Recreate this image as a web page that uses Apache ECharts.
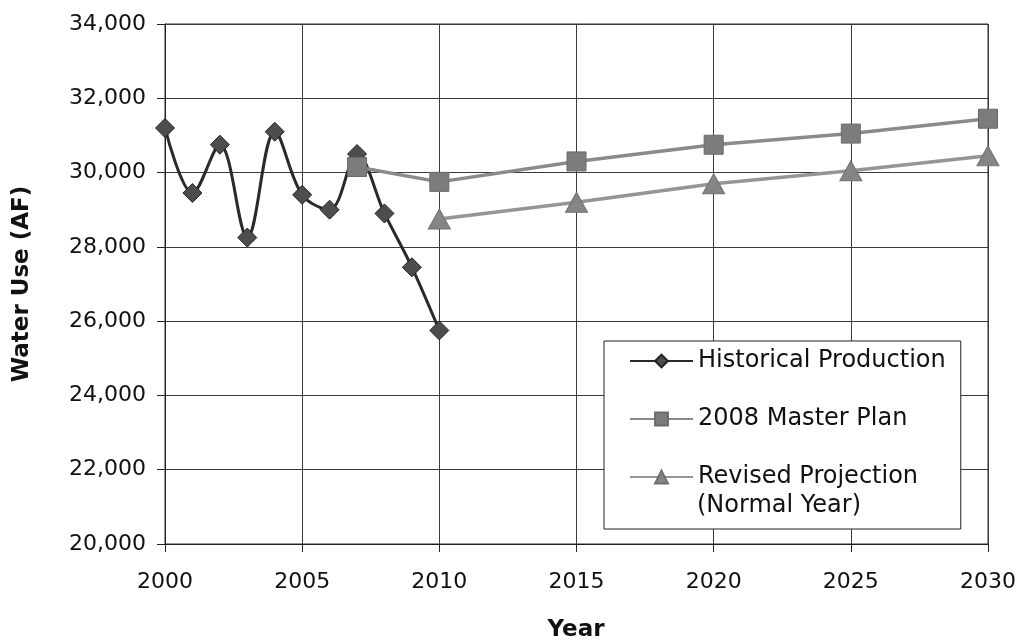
<!DOCTYPE html>
<html>
<head>
<meta charset="utf-8">
<script src="https://cdn.jsdelivr.net/npm/echarts@6/dist/echarts.min.js"></script>
<style>
html, body { margin: 0; padding: 0; background: #fff; }
#main { width: 1019px; height: 643px; }
</style>
</head>
<body>
<div id="main"></div>
<script>
// historical production (AF)
var histYears = [2000, 2001, 2002, 2003, 2004, 2005, 2006, 2007, 2008, 2009, 2010];
var histValues = [31200, 29450, 30750, 28250, 31100, 29400, 29000, 30500, 28900, 27450, 25750];
// 2008 master plan
var planYears = [2007, 2010, 2015, 2020, 2025, 2030];
var planValues = [30150, 29750, 30300, 30750, 31050, 31450];
// revised projection (normal year)
var revYears = [2010, 2015, 2020, 2025, 2030];
var revValues = [28750, 29200, 29700, 30050, 30450];

var seriesNames = ['Historical Production', '2008 Master Plan', 'Revised Projection'];

function pairs(xs, ys) {
	var out = [];
	for (var i = 0; i < xs.length; i++) {
		out.push([xs[i], ys[i]]);
	}
	return out;
}

var chart = echarts.init(document.getElementById('main'));
var font = 'DejaVu Sans';
var option = {
	animation: false,
	backgroundColor: '#fff',
	grid: {
		left: 165, right: 31, top: 24, bottom: 99,
		show: true, borderColor: '#333', borderWidth: 1
	},
	legend: {
		orient: 'vertical',
		left: 604, top: 341,
		padding: [8, 15, 40, 25],
		itemGap: 34,
		itemWidth: 63,
		itemHeight: 16,
		backgroundColor: '#fff',
		borderColor: '#222',
		borderWidth: 1,
		borderRadius: 0,
		textStyle: { fontFamily: font, fontSize: 24, color: '#111', lineHeight: 24 },
		data: seriesNames
	},
	xAxis: {
		type: 'value',
		min: 2000, max: 2030, interval: 5,
		axisLine: { show: true, lineStyle: { color: '#222', width: 1 } },
		axisTick: { show: true, length: 8, inside: false, lineStyle: { color: '#222' } },
		axisLabel: {
			fontFamily: font, fontSize: 22, color: '#111', margin: 27,
			formatter: function (v) { return String(v); }
		},
		splitLine: { show: true, lineStyle: { color: '#3a3a3a', width: 1 } }
	},
	yAxis: {
		type: 'value',
		min: 20000, max: 34000, interval: 2000,
		axisLine: { show: true, lineStyle: { color: '#222', width: 1 } },
		axisTick: { show: true, length: 8, inside: false, lineStyle: { color: '#222' } },
		axisLabel: {
			fontFamily: font, fontSize: 22, color: '#111', margin: 19,
			formatter: function (v) { return v.toLocaleString('en-US'); }
		},
		splitLine: { show: true, lineStyle: { color: '#3a3a3a', width: 1 } }
	},
	graphic: [
		{
			type: 'text', x: 22, y: 284, rotation: Math.PI / 2, z: 100,
			style: { text: 'Water Use (AF)', fontFamily: font, fontSize: 23, fontWeight: 'bold', fill: '#111', align: 'center', verticalAlign: 'middle' }
		},
		{
			type: 'text', x: 576, y: 630, z: 100,
			style: { text: 'Year', fontFamily: font, fontSize: 23, fontWeight: 'bold', fill: '#111', align: 'center', verticalAlign: 'middle' }
		},
		{
			type: 'text', x: 697, y: 506, z: 100,
			style: { text: '(Normal Year)', fontFamily: font, fontSize: 24, fill: '#111', align: 'left', verticalAlign: 'middle' }
		}
	],
	series: [
		{
			name: seriesNames[0],
			type: 'line',
			smooth: 0.35,
			data: pairs(histYears, histValues),
			symbol: 'diamond',
			symbolSize: 19,
			lineStyle: { color: '#2a2a2a', width: 3 },
			itemStyle: { color: '#4d4d4d', borderColor: '#222', borderWidth: 1 }
		},
		{
			name: seriesNames[1],
			type: 'line',
			data: pairs(planYears, planValues),
			symbol: 'rect',
			symbolSize: 19,
			lineStyle: { color: '#8a8a8a', width: 3.5 },
			itemStyle: { color: '#7c7c7c', borderColor: '#6a6a6a', borderWidth: 1 }
		},
		{
			name: seriesNames[2],
			type: 'line',
			data: pairs(revYears, revValues),
			symbol: 'triangle',
			symbolSize: [22, 20],
			lineStyle: { color: '#959595', width: 3.5 },
			itemStyle: { color: '#858585', borderColor: '#707070', borderWidth: 1 }
		}
	]
};
chart.setOption(option);
</script>
</body>
</html>
